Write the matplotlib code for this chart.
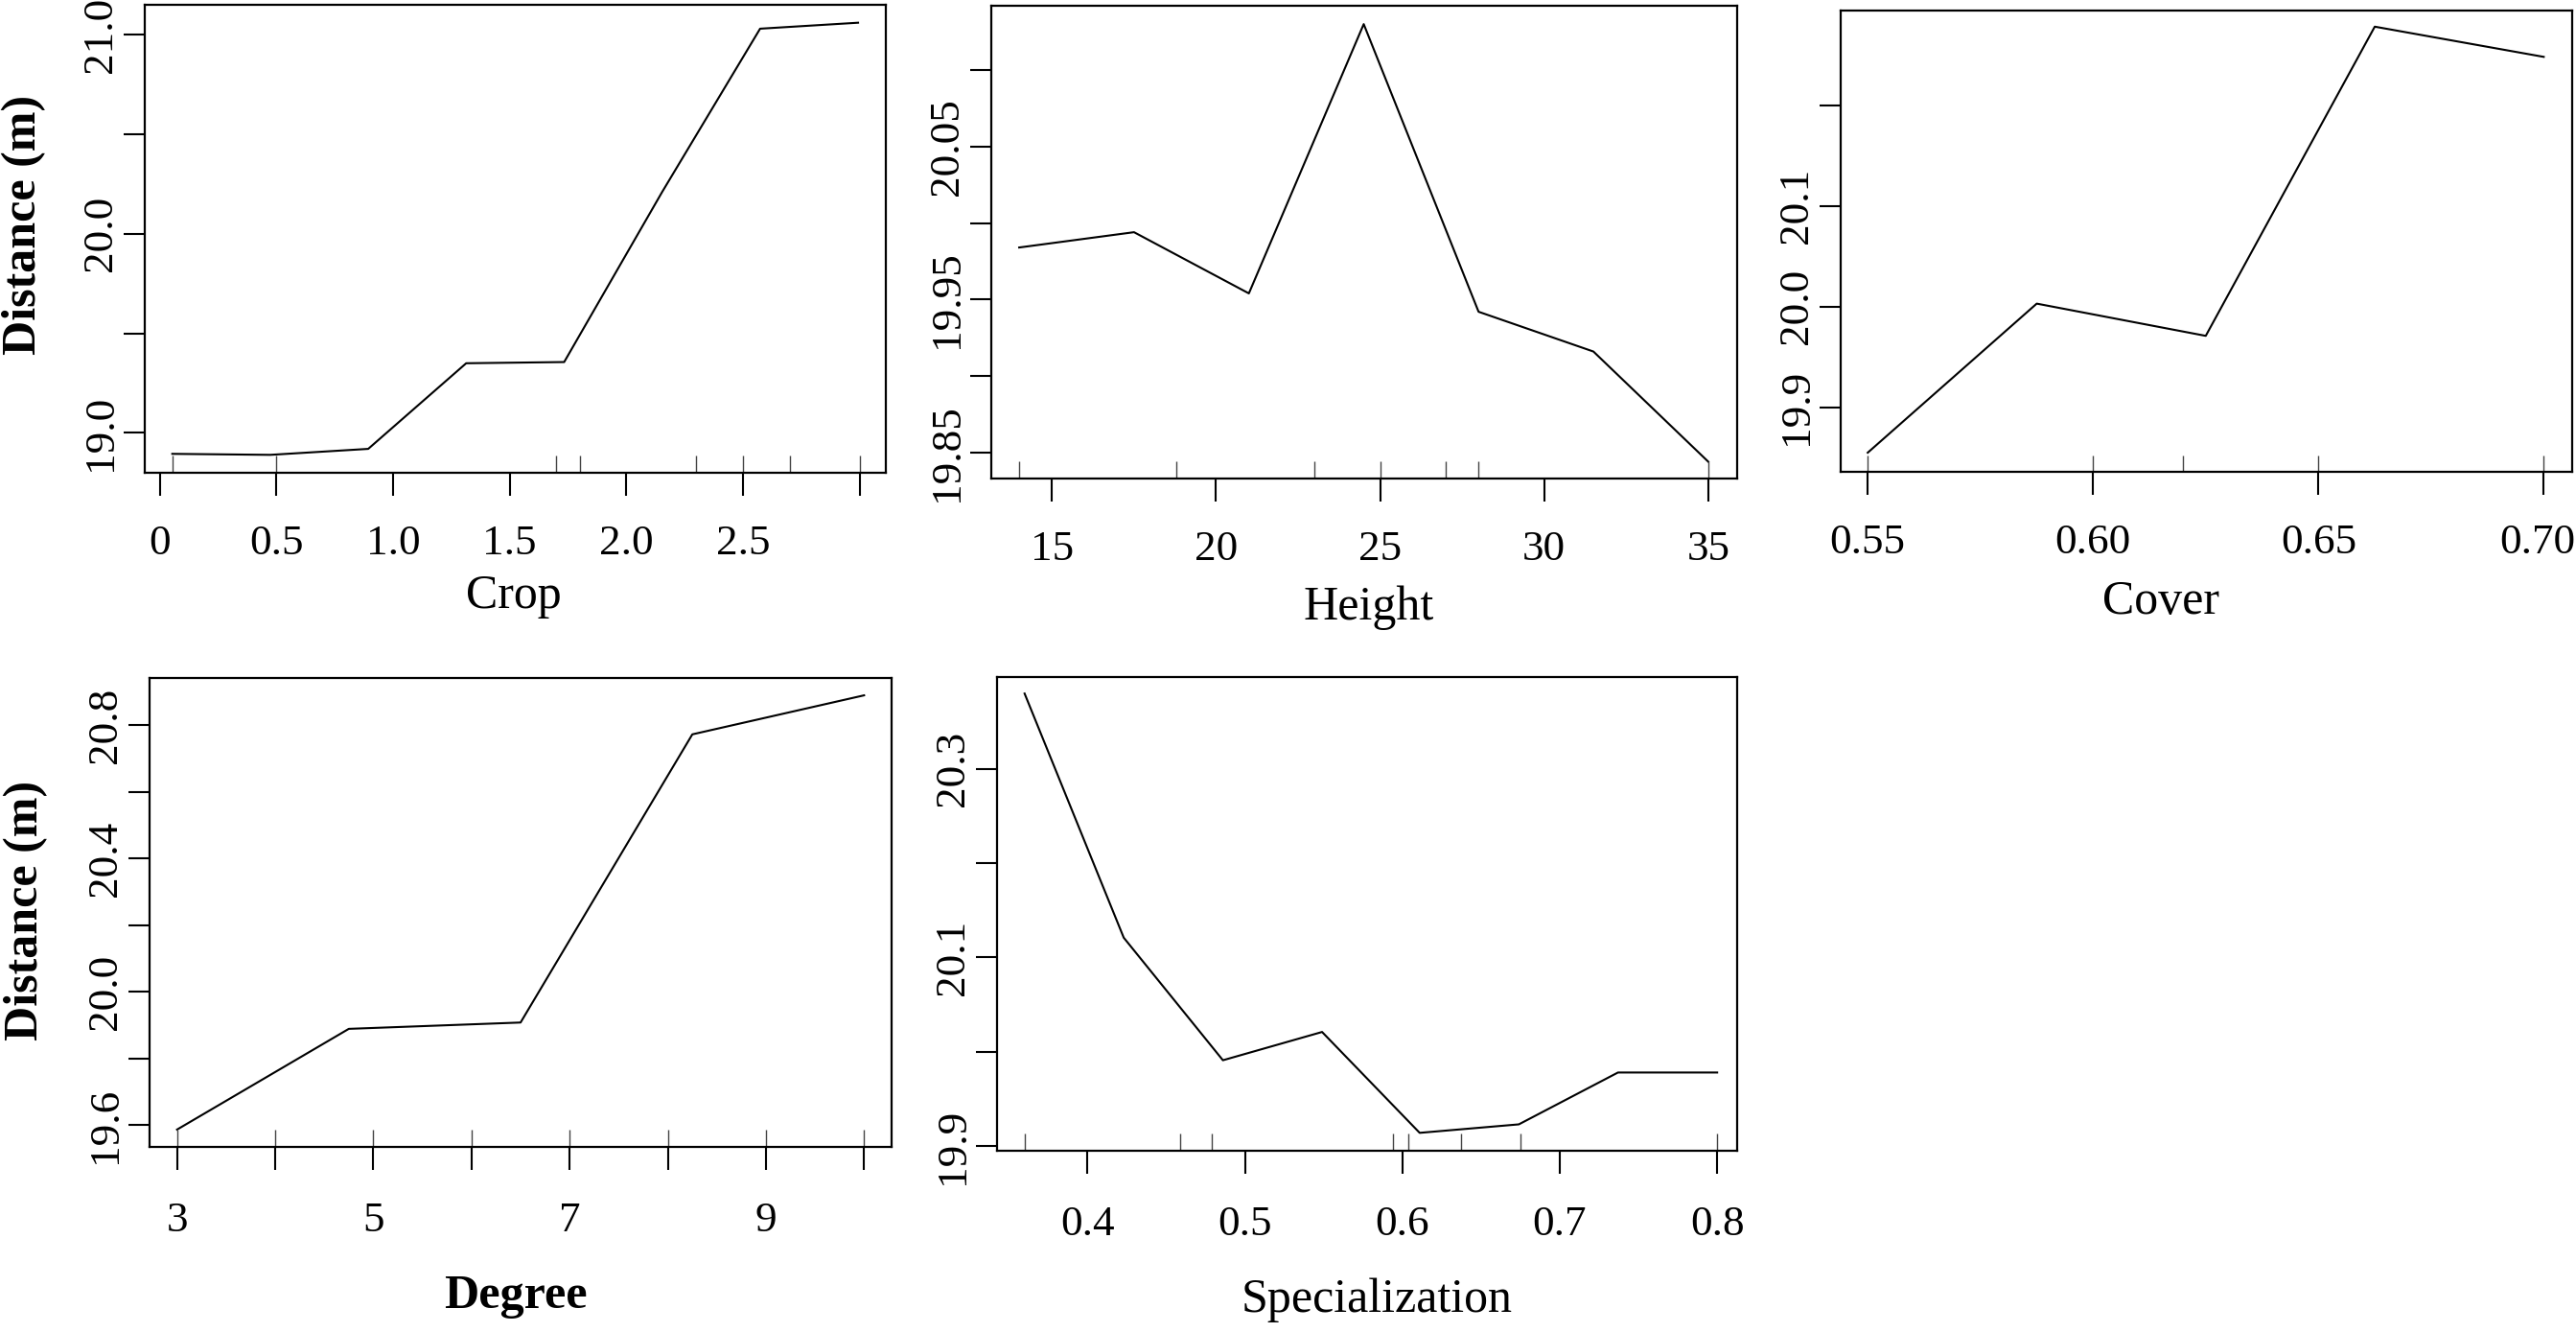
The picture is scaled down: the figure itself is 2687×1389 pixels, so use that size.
import matplotlib
matplotlib.use('Agg')
import matplotlib.pyplot as plt
from matplotlib.transforms import ScaledTranslation

W, H = 2687, 1389
plt.rcParams['font.family'] = ['Liberation Serif', 'DejaVu Serif']

# partial dependence curves
crop_x = [0.054, 0.474, 0.894, 1.314, 1.734, 2.154, 2.574, 2.994]
crop_y = [18.895, 18.89, 18.92, 19.35, 19.356, 20.21, 21.03, 21.06]
crop_rug = [0.054, 0.5, 1.70, 1.80, 2.30, 2.50, 2.70, 3.0]

height_x = [14.0, 17.5, 21.0, 24.5, 28.0, 31.5, 35.0]
height_y = [19.984, 19.994, 19.954, 20.13, 19.942, 19.916, 19.844]
height_rug = [14.0, 18.8, 23.0, 25.0, 27.0, 28.0, 35.0]

cover_x = [0.55, 0.5875, 0.625, 0.6625, 0.70]
cover_y = [19.855, 20.003, 19.971, 20.278, 20.248]
cover_rug = [0.55, 0.60, 0.62, 0.65, 0.70]

degree_x = [3.0, 4.75, 6.5, 8.25, 10.0]
degree_y = [19.587, 19.889, 19.908, 20.772, 20.889]
degree_rug = [3, 4, 5, 6, 7, 8, 9, 10]

spec_x = [0.36, 0.423, 0.486, 0.549, 0.611, 0.674, 0.737, 0.80]
spec_y = [20.380, 20.121, 19.991, 20.021, 19.914, 19.923, 19.978, 19.978]
spec_rug = [0.36, 0.459, 0.479, 0.594, 0.604, 0.6375, 0.675, 0.80]

# axis ticks / labels
crop_xt = [0, 0.5, 1.0, 1.5, 2.0, 2.5, 3.0]
crop_xl = ['0', '0.5', '1.0', '1.5', '2.0', '2.5', '']
crop_yt = [19.0, 19.5, 20.0, 20.5, 21.0]
crop_yl = ['19.0', '', '20.0', '', '21.0']

height_xt = [15, 20, 25, 30, 35]
height_xl = ['15', '20', '25', '30', '35']
height_yt = [19.85, 19.90, 19.95, 20.00, 20.05, 20.10]
height_yl = ['19.85', '', '19.95', '', '20.05', '']

cover_xt = [0.55, 0.60, 0.65, 0.70]
cover_xl = ['0.55', '0.60', '0.65', '0.70']
cover_yt = [19.9, 20.0, 20.1, 20.2]
cover_yl = ['19.9', '20.0', '20.1', '']

degree_xt = [3, 4, 5, 6, 7, 8, 9, 10]
degree_xl = ['3', '', '5', '', '7', '', '9', '']
degree_yt = [19.6, 19.8, 20.0, 20.2, 20.4, 20.6, 20.8]
degree_yl = ['19.6', '', '20.0', '', '20.4', '', '20.8']

spec_xt = [0.4, 0.5, 0.6, 0.7, 0.8]
spec_xl = ['0.4', '0.5', '0.6', '0.7', '0.8']
spec_yt = [19.9, 20.0, 20.1, 20.2, 20.3]
spec_yl = ['19.9', '', '20.1', '', '20.3']

# layout in pixels: box (left, top, right, bottom), limits, label place
panels = [
    dict(x=crop_x, y=crop_y, rug=crop_rug, xt=crop_xt, xl=crop_xl, yt=crop_yt, yl=crop_yl,
         box=(151, 5, 924, 493), xlim=(-0.064, 3.113), ylim=(18.80, 21.15),
         name='Crop', bold=False, lab=(536, 622), xpad=22),
    dict(x=height_x, y=height_y, rug=height_rug, xt=height_xt, xl=height_xl, yt=height_yt, yl=height_yl,
         box=(1034, 6, 1812, 499), xlim=(13.15, 35.88), ylim=(19.833, 20.142),
         name='Height', bold=False, lab=(1428, 634), xpad=22),
    dict(x=cover_x, y=cover_y, rug=cover_rug, xt=cover_xt, xl=cover_xl, yt=cover_yt, yl=cover_yl,
         box=(1920, 11, 2683, 492), xlim=(0.544, 0.7063), ylim=(19.836, 20.294),
         name='Cover', bold=False, lab=(2254, 628), xpad=22),
    dict(x=degree_x, y=degree_y, rug=degree_rug, xt=degree_xt, xl=degree_xl, yt=degree_yt, yl=degree_yl,
         box=(156, 707, 930, 1196), xlim=(2.72, 10.28), ylim=(19.535, 20.941),
         name='Degree', bold=True, lab=(538, 1352), xpad=24),
    dict(x=spec_x, y=spec_y, rug=spec_rug, xt=spec_xt, xl=spec_xl, yt=spec_yt, yl=spec_yl,
         box=(1040, 706, 1812, 1200), xlim=(0.3425, 0.8127), ylim=(19.895, 20.3975),
         name='Specialization', bold=False, lab=(1436, 1356), xpad=24),
]

fig = plt.figure(figsize=(W / 100, H / 100), dpi=100)
axes = []

for p in panels:
    l, t, r, b = p['box']
    ax = fig.add_axes([l / W, 1 - b / H, (r - l) / W, (b - t) / H])
    ax.plot(p['x'], p['y'], color='black', lw=1.5)
    ax.vlines(p['rug'], 0, 0.036, transform=ax.get_xaxis_transform(),
              color='#444444', lw=1.0)
    ax.set_xlim(p['xlim'])
    ax.set_ylim(p['ylim'])
    ax.set_xticks(p['xt'], p['xl'])
    ax.set_yticks(p['yt'], p['yl'], rotation=90, va='center')
    ax.tick_params(axis='x', length=17, width=1.5, labelsize=32.5, pad=p['xpad'])
    ax.tick_params(axis='y', length=16, width=1.5, labelsize=32.5, pad=3)
    for s in ax.spines.values():
        s.set_linewidth(1.6)
    fig.text(p['lab'][0] / W, 1 - p['lab'][1] / H, p['name'], ha='center', va='center',
             fontsize=36, fontweight='bold' if p['bold'] else 'normal')
    axes.append(ax)

# last Cover tick label sits on the right edge of the figure; nudge it inside
last = axes[2].get_xticklabels()[-1]
last.set_transform(last.get_transform() + ScaledTranslation(-7 / 100, 0, fig.dpi_scale_trans))

fig.text(25 / W, 1 - 234 / H, 'Distance (m)', rotation=90, ha='center', va='center',
         fontsize=36, fontweight='bold')
fig.text(27 / W, 1 - 949 / H, 'Distance (m)', rotation=90, ha='center', va='center',
         fontsize=36, fontweight='bold')

fig.savefig('out.png', dpi=100, facecolor='white')
